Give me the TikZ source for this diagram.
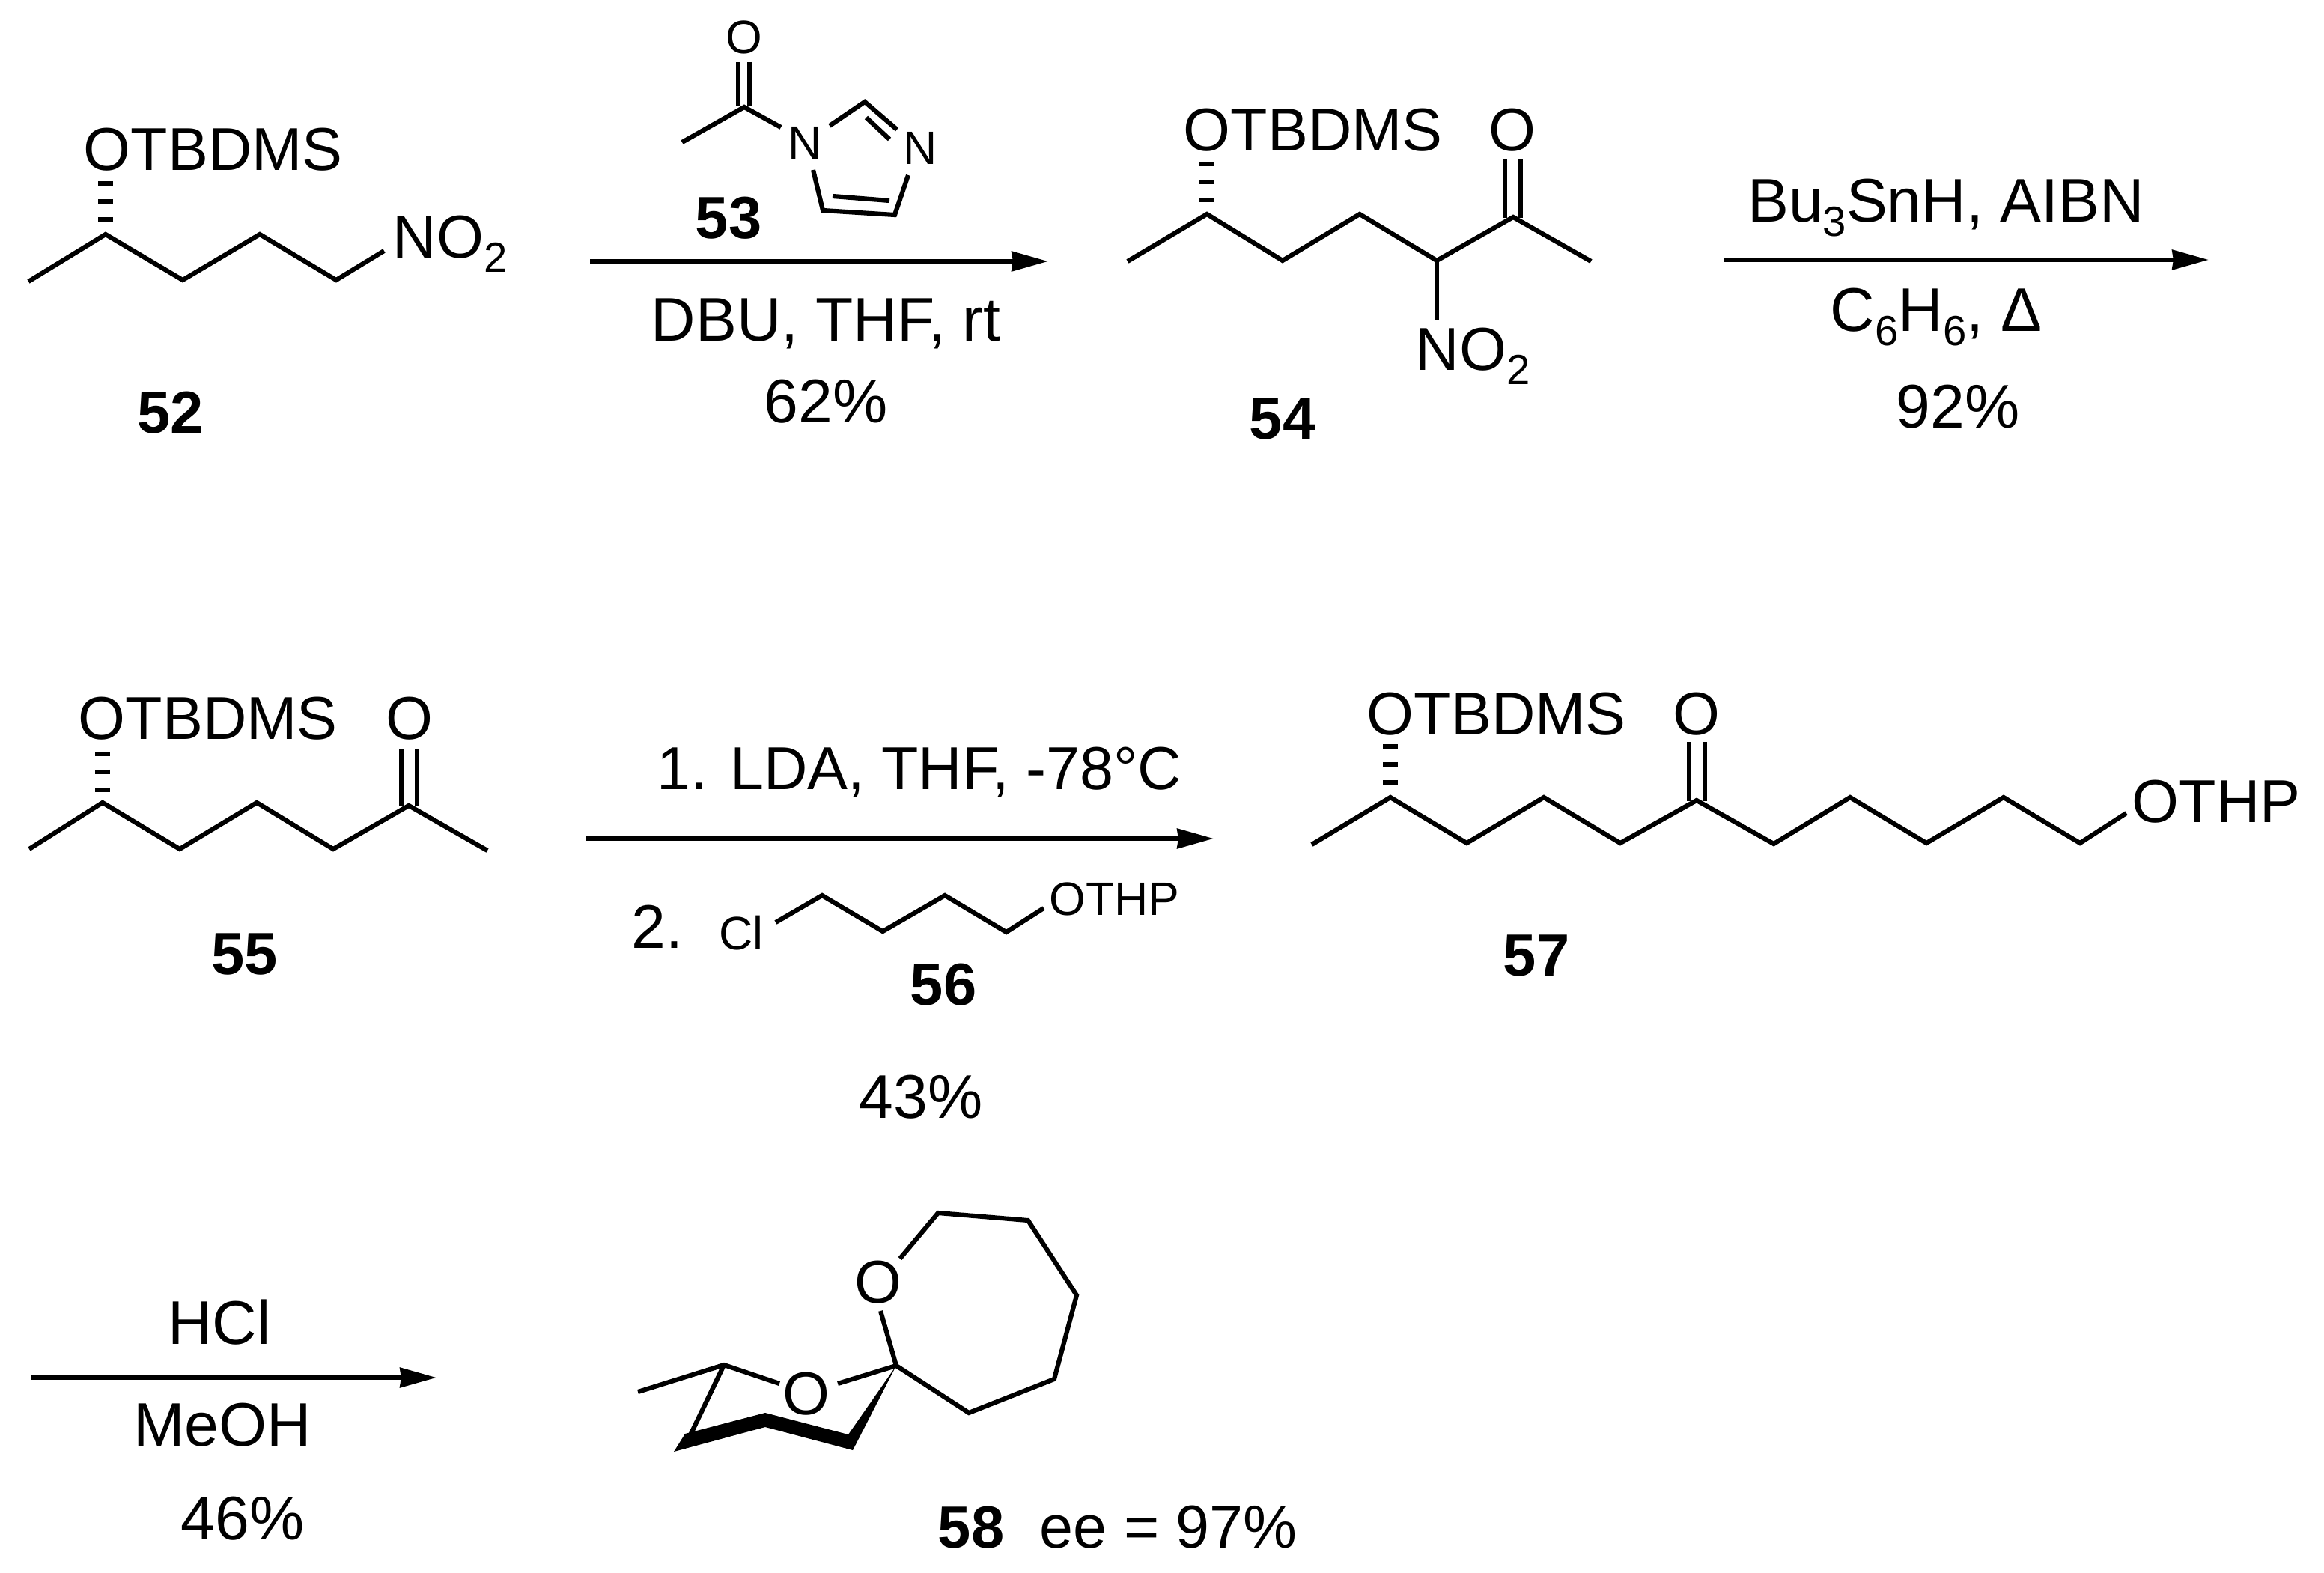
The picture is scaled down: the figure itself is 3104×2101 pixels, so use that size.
\documentclass[tikz,border=0pt]{standalone}
\usepackage{fontspec}
\setmainfont{Liberation Sans}
\usetikzlibrary{arrows.meta}

\newcommand{\lowidx}[1]{\raisebox{-5.2pt}{\fontsize{16}{16}\selectfont #1}}

\tikzset{
  bond/.style={line width=1.75pt},
  boldbond/.style={fill=black, draw=none},
  hashbond/.style={line width=5.9pt, dash pattern=on 1.7pt off 5.1pt},
  rxnarrow/.style={line width=1.8pt, -{Stealth[length=13.8pt,width=7.4pt,inset=0.4pt]}},
  atomlab/.style={inner sep=0pt, anchor=base west, font=\fontsize{23}{23}\selectfont},
  smalllab/.style={inner sep=0pt, anchor=base west, font=\fontsize{17.8}{17.8}\selectfont},
  reagent/.style={inner sep=0pt, anchor=base, font=\fontsize{23.4}{23.4}\selectfont},
  cpdlab/.style={inner sep=0pt, anchor=base, font=\fontsize{22.6}{22.6}\selectfont\bfseries}
}

\begin{document}
\begin{tikzpicture}[x=0.01cm, y=-0.01cm]
\useasboundingbox (0,0) rectangle (3104,2101);

% compound 52
\path (38,376) coordinate (a1) (141,313) coordinate (a2) (244,374) coordinate (a3)
  (347,313) coordinate (a4) (449,374) coordinate (a5) (513,335) coordinate (a6)
  (141,242) coordinate (ah1) (141,296) coordinate (ah2);
\draw[bond] (a1) -- (a2) -- (a3) -- (a4) -- (a5) -- (a6);
\draw[hashbond] (ah1) -- (ah2);
\node[atomlab] (aO) at (111,228) {OTBDMS};
\node[atomlab] (aN) at (524,345) {NO\lowidx{2}};
\node[cpdlab] (c52) at (228,579) {52};

% compound 53
\path (994,143) coordinate (b1) (911,190) coordinate (b2) (1043,170) coordinate (b3)
  (986,83) coordinate (bd1) (986,141) coordinate (bd2) (1001,83) coordinate (bd3) (1001,141) coordinate (bd4)
  (1108,168) coordinate (r1) (1155,136) coordinate (r2) (1198,173) coordinate (r3)
  (1157,157) coordinate (r4) (1188,186) coordinate (r5)
  (1213,234) coordinate (r6) (1195,287) coordinate (r7) (1099,281) coordinate (r8) (1086,227) coordinate (r9)
  (1112,262) coordinate (r10) (1188,268) coordinate (r11);
\draw[bond] (b2) -- (b1) -- (b3);
\draw[bond] (bd1) -- (bd2) (bd3) -- (bd4);
\draw[bond] (r1) -- (r2) -- (r3) (r4) -- (r5) (r6) -- (r7) -- (r8) -- (r9) (r10) -- (r11);
\node[smalllab, anchor=base] (bO) at (994,72) {O};
\node[smalllab, anchor=base] (bN1) at (1075,213) {N};
\node[smalllab, anchor=base] (bN2) at (1229,220) {N};
\node[cpdlab] (c53) at (973,319) {53};

% first arrow
\path (788,349) coordinate (p1) (1400,349) coordinate (p2);
\draw[rxnarrow] (p1) -- (p2);
\node[reagent] (t1) at (1103,456) {DBU, THF, rt};
\node[reagent] (t2) at (1103,565) {62\%};

% compound 54
\path (1506,349) coordinate (d1) (1612,286) coordinate (d2) (1713,348) coordinate (d3)
  (1816,286) coordinate (d4) (1919,348) coordinate (d5) (2021,290) coordinate (d6)
  (2125,349) coordinate (d7) (1919,428) coordinate (d8)
  (2010,213) coordinate (dd1) (2010,291) coordinate (dd2) (2031,213) coordinate (dd3) (2031,291) coordinate (dd4)
  (1612,216) coordinate (dh1) (1612,270) coordinate (dh2);
\draw[bond] (d1) -- (d2) -- (d3) -- (d4) -- (d5) -- (d6) -- (d7);
\draw[bond] (d5) -- (d8);
\draw[bond] (dd1) -- (dd2) (dd3) -- (dd4);
\draw[hashbond] (dh1) -- (dh2);
\node[atomlab] (dO) at (1580,202) {OTBDMS};
\node[atomlab, anchor=base] (dO2) at (2020,202) {O};
\node[atomlab] (dN) at (1890,495) {NO\lowidx{2}};
\node[cpdlab] (c54) at (1713,587) {54};

% second arrow
\path (2302,347) coordinate (q1) (2950,347) coordinate (q2);
\draw[rxnarrow] (q1) -- (q2);
\node[reagent] (t3) at (2599,297) {Bu\lowidx{3}SnH, AIBN};
\node[reagent] (t4) at (2586,443) {C\lowidx{6}H\lowidx{6}, Δ};
\node[reagent] (t5) at (2615,572) {92\%};

% compound 55
\path (39,1134) coordinate (e1) (137,1072) coordinate (e2) (240,1134) coordinate (e3)
  (343,1072) coordinate (e4) (445,1134) coordinate (e5) (546,1076) coordinate (e6) (651,1136) coordinate (e7)
  (536,1001) coordinate (ed1) (536,1077) coordinate (ed2) (557,1001) coordinate (ed3) (557,1077) coordinate (ed4)
  (137,1004) coordinate (eh1) (137,1058) coordinate (eh2);
\draw[bond] (e1) -- (e2) -- (e3) -- (e4) -- (e5) -- (e6) -- (e7);
\draw[bond] (ed1) -- (ed2) (ed3) -- (ed4);
\draw[hashbond] (eh1) -- (eh2);
\node[atomlab] (eO) at (104,987) {OTBDMS};
\node[atomlab, anchor=base] (eO2) at (547,987) {O};
\node[cpdlab] (c55) at (327,1301) {55};

% third arrow
\path (783,1120) coordinate (s1) (1621,1120) coordinate (s2);
\draw[rxnarrow] (s1) -- (s2);
\node[reagent, font=\fontsize{23}{23}\selectfont] (t6) at (1228,1054) {1. LDA, THF, -78°C};
\node[reagent] (t7) at (878,1266) {2.};

% compound 56
\path (1036,1232) coordinate (f1) (1098,1196) coordinate (f2) (1179,1244) coordinate (f3)
  (1262,1196) coordinate (f4) (1344,1245) coordinate (f5) (1394,1213) coordinate (f6);
\draw[bond] (f1) -- (f2) -- (f3) -- (f4) -- (f5) -- (f6);
\node[smalllab] (fCl) at (960,1268) {Cl};
\node[smalllab] (fO) at (1401,1222) {OTHP};
\node[cpdlab] (c56) at (1260,1342) {56};
\node[reagent] (t8) at (1230,1493) {43\%};

% compound 57
\path (1752,1128) coordinate (g1) (1857,1065) coordinate (g2) (1959,1126) coordinate (g3)
  (2062,1065) coordinate (g4) (2164,1126) coordinate (g5) (2266,1069) coordinate (g6)
  (2369,1127) coordinate (g7) (2471,1065) coordinate (g8) (2573,1126) coordinate (g9)
  (2676,1065) coordinate (g10) (2778,1126) coordinate (g11) (2840,1086) coordinate (g12)
  (2256,991) coordinate (gd1) (2256,1070) coordinate (gd2) (2277,991) coordinate (gd3) (2277,1070) coordinate (gd4)
  (1857,994) coordinate (gh1) (1857,1048) coordinate (gh2);
\draw[bond] (g1) -- (g2) -- (g3) -- (g4) -- (g5) -- (g6) -- (g7) -- (g8) -- (g9) -- (g10) -- (g11) -- (g12);
\draw[bond] (gd1) -- (gd2) (gd3) -- (gd4);
\draw[hashbond] (gh1) -- (gh2);
\node[atomlab] (gO) at (1825,981) {OTBDMS};
\node[atomlab, anchor=base] (gO2) at (2266,981) {O};
\node[atomlab] (gO3) at (2847,1098) {OTHP};
\node[cpdlab] (c57) at (2052,1303) {57};

% fourth arrow
\path (41,1840) coordinate (u1) (583,1840) coordinate (u2);
\draw[rxnarrow] (u1) -- (u2);
\node[reagent] (t9) at (293,1795) {HCl};
\node[reagent] (t10) at (297,1931) {MeOH};
\node[reagent] (t11) at (324,2056) {46\%};

% compound 58
\path (852,1859) coordinate (h1) (967,1823) coordinate (h2) (1041,1848) coordinate (h3)
  (1119,1848) coordinate (h4) (1197,1824) coordinate (h5) (918,1925) coordinate (h6)
  (1176,1751) coordinate (k1) (1202,1681) coordinate (k2) (1253,1620) coordinate (k3)
  (1373,1630) coordinate (k4) (1438,1730) coordinate (k5) (1408,1842) coordinate (k6) (1294,1887) coordinate (k7)
  (1133,1916) coordinate (w1) (1022,1887) coordinate (w2) (915,1915) coordinate (w3)
  (900,1939) coordinate (w4) (1022,1906) coordinate (w5) (1139,1937) coordinate (w6);
\draw[bond] (h1) -- (h2) -- (h3) (h4) -- (h5) (h2) -- (h6);
\draw[bond] (h5) -- (k1) (k2) -- (k3) -- (k4) -- (k5) -- (k6) -- (k7) -- (h5);
\fill[boldbond] (h5) -- (w1) -- (w2) -- (w3) -- (w4) -- (w5) -- (w6) -- cycle;
\node[atomlab, anchor=base] (hO) at (1077,1889) {O};
\node[atomlab, anchor=base] (kO) at (1173,1740) {O};
\node[cpdlab] (c58) at (1297,2067) {58};
\node[reagent, anchor=base west, font=\fontsize{23}{23}\selectfont] (t12) at (1388,2067) {ee = 97\%};

\end{tikzpicture}
\end{document}
